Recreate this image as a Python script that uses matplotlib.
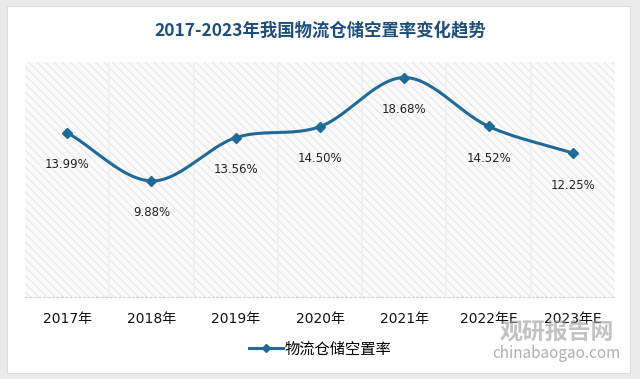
import matplotlib
matplotlib.use('Agg')
import matplotlib.pyplot as plt
from matplotlib.patches import Rectangle
import numpy as np

plt.rcParams['font.family'] = ['Noto Sans CJK SC', 'DejaVu Sans']
plt.rcParams['hatch.color'] = '#dedede'
plt.rcParams['hatch.linewidth'] = 0.6

years = ['2017年', '2018年', '2019年', '2020年', '2021年', '2022年E', '2023年E']
vacancy = [13.99, 9.88, 13.56, 14.50, 18.68, 14.52, 12.25]
series_name = '物流仓储空置率'
title = '2017-2023年我国物流仓储空置率变化趋势'

line_colour = '#1f6a96'
wide_fonts = ['DejaVu Sans', 'Noto Sans CJK SC']


def smooth(x, y, n=30):
    '''Catmull-Rom style curve through the points (like Excel smoothed line).'''
    x = np.asarray(x, float)
    y = np.asarray(y, float)
    m = np.gradient(y, x)
    xs, ys = [], []
    for i in range(len(x) - 1):
        h = x[i + 1] - x[i]
        t = np.linspace(0, 1, n)
        h00 = 2 * t**3 - 3 * t**2 + 1
        h10 = t**3 - 2 * t**2 + t
        h01 = -2 * t**3 + 3 * t**2
        h11 = t**3 - t**2
        xs.append(x[i] + t * h)
        ys.append(h00 * y[i] + h10 * h * m[i] + h01 * y[i + 1] + h11 * h * m[i + 1])
    return np.concatenate(xs), np.concatenate(ys)


fig = plt.figure(figsize=(6.4, 3.79), dpi=100)
fig.patch.set_facecolor('#ebebeb')

# white card behind everything
card = Rectangle((7 / 640, 6 / 379), 623 / 640, 367 / 379, transform=fig.transFigure,
                 facecolor='white', edgecolor='#dddddd', lw=0.8, zorder=-10)
fig.patches.append(card)

ax = fig.add_axes([25 / 640, 82 / 379, 590 / 640, 235 / 379])
ax.set_facecolor('#fafafa')
ax.patch.set_hatch('\\\\\\\\')
ax.patch.set_edgecolor('#e2e2e2')

x = np.arange(len(years))
ax.set_xlim(-0.5, len(years) - 0.5)
ax.set_ylim(0, 20)

# faint vertical bands between categories
for b in np.arange(0.5, len(years) - 0.5, 1):
    ax.axvline(b, color='#f0f0f0', lw=1.2, zorder=1)

xs, ys = smooth(x, vacancy)
ax.plot(xs, ys, color=line_colour, lw=2.2, zorder=3, solid_capstyle='round')
ax.plot(x, vacancy, ls='none', marker='D', ms=5, color=line_colour, zorder=4)
ax.plot([], [], color=line_colour, lw=2.2, marker='D', ms=4.5, label=series_name)

for xi, v in zip(x, vacancy):
    ax.annotate('%.2f%%' % v, (xi, v), xytext=(0, -23), textcoords='offset points',
                ha='center', va='center', fontsize=8.5, color='#222222', zorder=5,
                family=wide_fonts)

for s in ['top', 'left', 'right']:
    ax.spines[s].set_visible(False)
ax.spines['bottom'].set_color('#d0d0d0')
ax.spines['bottom'].set_linestyle((0, (2, 2)))
ax.set_yticks([])
ax.set_xticks(x)
ax.set_xticklabels(years, fontsize=10, color='#111111', family=wide_fonts)
ax.tick_params(axis='x', length=0, pad=11)

fig.text(0.5, 1 - 30 / 379, title, ha='center', va='center', fontsize=12.5,
         fontweight='bold', color='#1f4e79')

fig.legend(loc='center', bbox_to_anchor=(320 / 640, 1 - 349 / 379), frameon=False,
           fontsize=11, handlelength=2.2, handletextpad=0.1)

# watermark
fig.text(557 / 640, 1 - 333 / 379, '观研报告网', ha='center', va='center', fontsize=16.5,
         fontweight='bold', color='#9a9a9a', alpha=0.6)
fig.text(556 / 640, 1 - 354 / 379, 'chinabaogao.com', ha='center', va='center', fontsize=11,
         color='#9a9a9a', alpha=0.8)

plt.savefig('out.png', dpi=100, facecolor=fig.get_facecolor())
